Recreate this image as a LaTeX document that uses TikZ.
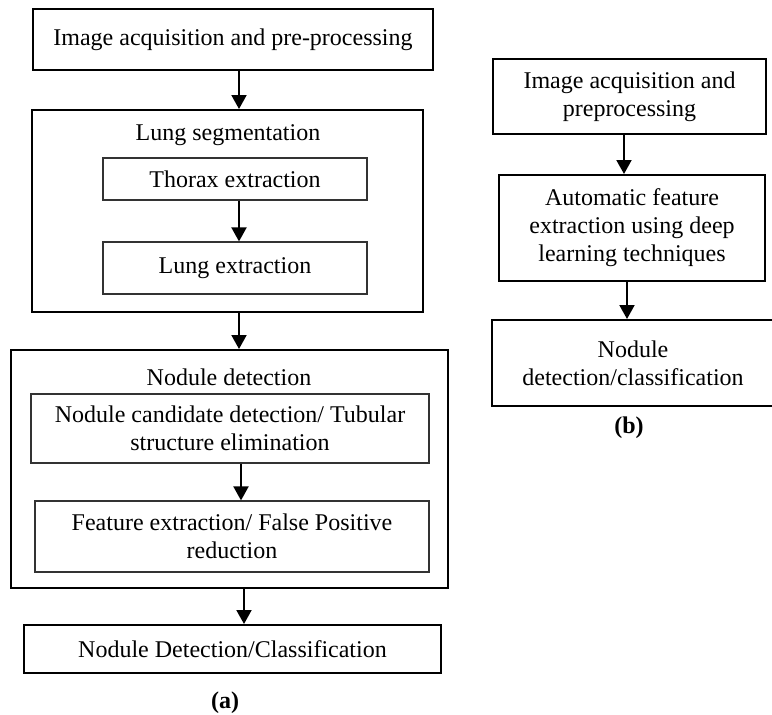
\documentclass[tikz,border=0pt]{standalone}
\usepackage{fontspec}
\setmainfont{Liberation Serif}
\usetikzlibrary{arrows.meta}

\tikzset{
  stage/.style={draw, line width=2pt, align=center, inner sep=0pt},
  substage/.style={draw=black!80, line width=1.2pt, align=center, inner sep=0pt},
  title/.style={align=center, inner sep=0pt},
  flow/.style={line width=2pt, -{Triangle[width=15pt,length=14pt]}}
}

\begin{document}
\begin{tikzpicture}[x=1pt, y=-1pt, font=\fontsize{24}{28}\selectfont]
\useasboundingbox (0,0) rectangle (772,715);
% (a) conventional pipeline
\node [stage, minimum width=400, minimum height=61] (acq) at (233,39.5) {Image acquisition and pre-processing};
\node [stage, minimum width=391, minimum height=202] (seg) at (227.5,211) {};
\node [title] (segt) at (228,135) {Lung segmentation};
\node [substage, minimum width=264, minimum height=42] (thx) at (235,179) {Thorax extraction};
\node [substage, minimum width=264, minimum height=52] (lngx) at (235,268) {Lung extraction};
\node [stage, minimum width=437, minimum height=238] (det) at (229.5,469) {};
\node [title] (dett) at (229,377) {Nodule detection};
\node [substage, minimum width=398, minimum height=69] (cand) at (230,428.5) {Nodule candidate detection/ Tubular\\structure elimination};
\node [substage, minimum width=394, minimum height=71] (fpr) at (232,536.5) {Feature extraction/ False Positive\\reduction};
\node [stage, minimum width=417, minimum height=48] (cls) at (232.5,649) {Nodule Detection/Classification};
\node [title] (capa) at (225,703) {\textbf{(a)}};
\coordinate (ax) at (239,0);
\coordinate (bx) at (241,0);
\coordinate (cx) at (244,0);
\draw [flow] (acq.south -| ax) -- (seg.north -| ax);
\draw [flow] (thx.south -| ax) -- (lngx.north -| ax);
\draw [flow] (seg.south -| ax) -- (det.north -| ax);
\draw [flow] (cand.south -| bx) -- (fpr.north -| bx);
\draw [flow] (det.south -| cx) -- (cls.north -| cx);
% (b) deep learning pipeline
\node [stage, minimum width=273, minimum height=75] (dacq) at (629.5,96.5) {Image acquisition and\\preprocessing};
\node [stage, minimum width=266, minimum height=106] (dfeat) at (632,228) {Automatic feature\\extraction using deep\\learning techniques};
\node [stage, minimum width=282, minimum height=86] (dcls) at (633,363) {Nodule\\detection/classification};
\node [title] (capb) at (629,428) {\textbf{(b)}};
\coordinate (dx) at (624,0);
\coordinate (ex) at (627,0);
\draw [flow] (dacq.south -| dx) -- (dfeat.north -| dx);
\draw [flow] (dfeat.south -| ex) -- (dcls.north -| ex);
\end{tikzpicture}
\end{document}
